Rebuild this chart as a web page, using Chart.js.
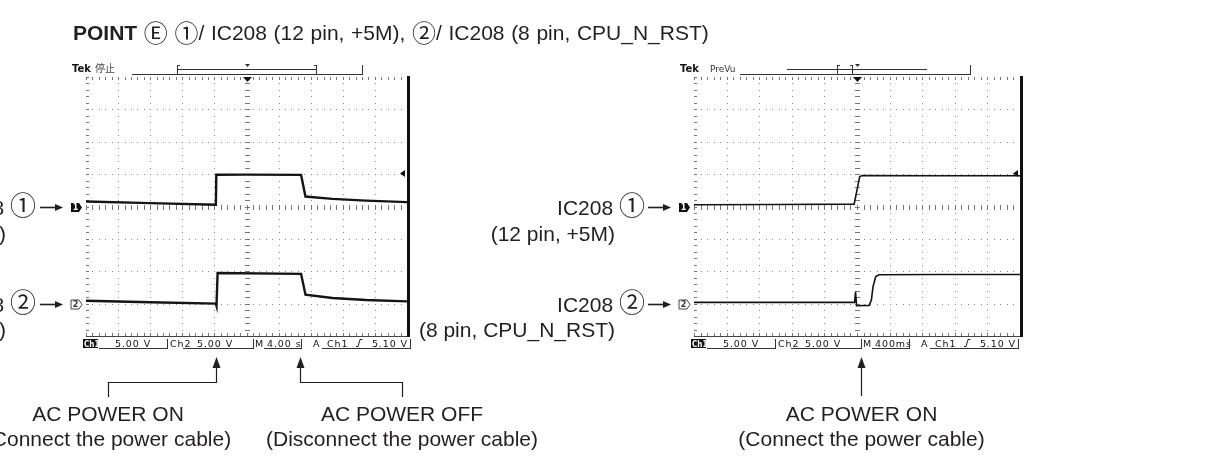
<!DOCTYPE html>
<html>
<head>
<meta charset="utf-8">
<script src="https://cdn.jsdelivr.net/npm/chart.js@4.4.1/dist/chart.umd.min.js"></script>
<style>
  html, body { margin: 0; padding: 0; background: #fff; }
  body { width: 1212px; height: 468px; position: relative; overflow: hidden;
         font-family: "Liberation Sans", Arial, sans-serif; color: #231f20; }
  canvas { position: absolute; top: 0; }
  .t { position: absolute; white-space: nowrap; line-height: 1; }
  .c { font-family: "Noto Sans CJK JP", "Liberation Sans", sans-serif; line-height: 0; }
  .ct { font-size: 24px; position: relative; top: 2px; }
  .cl { font-size: 26px; }
  .r { text-align: right; }
  .m { transform: translateX(-50%); text-align: center; }
</style>
</head>
<body>
<canvas id="scopeA" width="606" height="468" style="left:0"></canvas>
<canvas id="scopeB" width="606" height="468" style="left:606px"></canvas>

<div class="t" style="left:73px;top:22px;font-size:21px;word-spacing:0.8px"><b>POINT</b> <span class="c ct">Ⓔ</span> <span class="c ct">①</span>/ IC208 (12 pin, +5M), <span class="c ct">②</span>/ IC208 (8 pin, CPU_N_RST)</div>

<!-- probe labels, left capture -->
<div class="t r" style="right:1176px;top:197px;font-size:21px">IC208 <span class="c cl">①</span></div>
<div class="t r" style="right:1206px;top:223px;font-size:21px">(12 pin, +5M)</div>
<div class="t r" style="right:1176px;top:294px;font-size:21px">IC208 <span class="c cl">②</span></div>
<div class="t r" style="right:1206px;top:319px;font-size:21px">(8 pin, CPU_N_RST)</div>

<!-- probe labels, right capture -->
<div class="t r" style="right:567px;top:197px;font-size:21px">IC208 <span class="c cl">①</span></div>
<div class="t r" style="right:597px;top:223px;font-size:21px">(12 pin, +5M)</div>
<div class="t r" style="right:567px;top:294px;font-size:21px">IC208 <span class="c cl">②</span></div>
<div class="t r" style="right:597px;top:319px;font-size:21px">(8 pin, CPU_N_RST)</div>

<!-- event notes -->
<div class="t m" style="left:108px;top:403px;font-size:21px">AC POWER ON</div>
<div class="t m" style="left:108px;top:428px;font-size:21px">(Connect the power cable)</div>
<div class="t m" style="left:402px;top:403px;font-size:21px">AC POWER OFF</div>
<div class="t m" style="left:402px;top:428px;font-size:21px">(Disconnect the power cable)</div>
<div class="t m" style="left:861.5px;top:403px;font-size:21px">AC POWER ON</div>
<div class="t m" style="left:861.5px;top:428px;font-size:21px">(Connect the power cable)</div>

<script>
// ---- Capture A: 4.00 s/div, power applied and then removed ----
const capATime1 = [-20, -12, -3.82, -3.76, 0, 6.8, 7.35, 10.7, 14.9, 20];
const capAVolt1 = [0.78, 0.52, 0.26, 4.9, 4.92, 4.88, 1.54, 1.17, 0.9, 0.68];
const capATime2 = [-20, -12, -3.82, -3.74, -3.6, 6.8, 7.35, 10.7, 14.9, 20];
const capAVolt2 = [0.45, 0.22, 0.0, -0.35, 4.72, 4.6, 1.37, 0.86, 0.56, 0.34];

// ---- Capture B: 400 ms/div, power-on detail ----
const capBTime1 = [-2, -1, -0.035, 0.033, 0.06, 1, 2];
const capBVolt1 = [0.28, 0.3, 0.36, 4.6, 4.78, 4.74, 4.74];
const capBTime2 = [-2, -1, -0.03, -0.018, -0.005, 0.15, 0.177, 0.197, 0.23, 0.27, 1, 2];
const capBVolt2 = [0.2, 0.2, 0.2, 1.84, -0.32, -0.27, 0.6, 2.65, 4.2, 4.46, 4.5, 4.5];

// status readout
const voltsPerDiv = ['5.00 V', '5.00 V'];
const timePerDiv = ['4.00 s', '400ms'];
const triggerLevel = 5.10;
const triggerLabel = '5.10 V';

// ON / OFF event times used for the call-out arrows
const capAEvents = [-3.8, 6.65];
const capBEvents = [0.05];

const INK = '#231f20';

function tag(ctx, xr, y, filled, txt) {
  ctx.beginPath();
  ctx.moveTo(xr - 11, y - 4.5); ctx.lineTo(xr - 3, y - 4.5); ctx.lineTo(xr, y);
  ctx.lineTo(xr - 3, y + 4.5); ctx.lineTo(xr - 11, y + 4.5); ctx.closePath();
  if (filled) { ctx.fillStyle = '#111'; ctx.fill(); }
  else { ctx.fillStyle = '#fff'; ctx.fill(); ctx.strokeStyle = '#444'; ctx.lineWidth = 1; ctx.stroke(); }
  ctx.fillStyle = filled ? '#fff' : '#333';
  ctx.font = 'bold 8px "DejaVu Sans"';
  ctx.textAlign = 'center'; ctx.textBaseline = 'middle';
  ctx.fillText(txt, xr - 6.5, y + 0.5);
}

function probeArrow(ctx, x0, x1, y) {
  ctx.strokeStyle = INK; ctx.fillStyle = INK; ctx.lineWidth = 1.6;
  ctx.beginPath(); ctx.moveTo(x0, y); ctx.lineTo(x1 - 6, y); ctx.stroke();
  ctx.beginPath(); ctx.moveTo(x1 - 8, y - 3.5); ctx.lineTo(x1, y); ctx.lineTo(x1 - 8, y + 3.5); ctx.closePath(); ctx.fill();
}

const scopeDecor = {
  id: 'scopeDecor',
  beforeDatasetsDraw(chart, args, o) {
    const { ctx, chartArea: a, scales } = chart;
    const xs = scales.x, ys = scales.y1;
    const xStep = (xs.max - xs.min) / 10, yStep = (ys.max - ys.min) / 8;
    const px = v => Math.round(xs.getPixelForValue(v));
    const py = v => Math.round(ys.getPixelForValue(v));
    const L = Math.round(a.left), R = Math.round(a.right), T = Math.round(a.top), B = Math.round(a.bottom);
    ctx.save();
    ctx.fillStyle = '#8a8a8a';
    // dotted graticule, five dots per division
    for (let i = 0; i <= 10; i++)
      for (let k = 0; k <= 40; k++) ctx.fillRect(px(xs.min + i * xStep), py(ys.min + k * yStep / 5), 1, 1);
    for (let j = 0; j <= 8; j++)
      for (let k = 0; k <= 50; k++) ctx.fillRect(px(xs.min + k * xStep / 5), py(ys.min + j * yStep), 1, 1);
    // centre cross and edge tick marks
    const cx = px((xs.min + xs.max) / 2), cy = py((ys.min + ys.max) / 2);
    ctx.fillStyle = '#777';
    for (let k = 0; k <= 40; k++) {
      const y = py(ys.min + k * yStep / 5);
      ctx.fillRect(cx - 2, y, 5, 1); ctx.fillRect(L, y, 3, 1);
    }
    for (let k = 0; k <= 50; k++) {
      const x = px(xs.min + k * xStep / 5);
      ctx.fillRect(x, cy - 2, 1, 5); ctx.fillRect(x, T, 1, 3); ctx.fillRect(x, B - 3, 1, 3);
    }
    ctx.fillStyle = '#444';
    ctx.fillRect(L, B, R - L + 1, 1);
    ctx.fillStyle = '#111';
    ctx.fillRect(R, T - 1, 3, B - T + 2);
    ctx.restore();
  },
  afterDraw(chart, args, o) {
    const { ctx, chartArea: a, scales } = chart;
    const xs = scales.x;
    const L = Math.round(a.left), R = Math.round(a.right), T = Math.round(a.top), B = Math.round(a.bottom);
    const cx = Math.round(xs.getPixelForValue((xs.min + xs.max) / 2));
    ctx.save();

    // channel ground tags and probe arrows
    const g1 = Math.round(scales.y1.getPixelForValue(0)) + 0.5;
    const g2 = Math.round(scales.y2.getPixelForValue(0)) + 0.5;
    tag(ctx, L - 4, g1, true, '1');
    tag(ctx, L - 4, g2, false, '2');
    probeArrow(ctx, L - 46, L - 23, g1);
    probeArrow(ctx, L - 46, L - 23, g2);

    // trigger position and level markers
    ctx.fillStyle = '#111';
    ctx.beginPath(); ctx.moveTo(cx - 4, T); ctx.lineTo(cx + 5, T); ctx.lineTo(cx + 0.5, T + 5); ctx.closePath(); ctx.fill();
    const tl = scales.y1.getPixelForValue(triggerLevel);
    ctx.beginPath(); ctx.moveTo(R - 7, tl); ctx.lineTo(R - 2, tl - 3.5); ctx.lineTo(R - 2, tl + 3.5); ctx.closePath(); ctx.fill();

    // header: brand, acquisition state, record bar
    ctx.textAlign = 'left'; ctx.textBaseline = 'alphabetic';
    ctx.fillStyle = '#111';
    ctx.font = 'bold 10px "DejaVu Sans"';
    ctx.fillText('Tek', L - 14, T - 5);
    if (o.state === 'stop') {
      ctx.fillStyle = '#444'; ctx.font = '10px "Noto Sans CJK JP"';
      ctx.fillText('停止', L + 9, T - 5);
    } else {
      ctx.fillStyle = '#333'; ctx.font = '9px "DejaVu Sans"';
      ctx.fillText('PreVu', L + 16, T - 5);
    }
    ctx.fillStyle = '#333';
    ctx.fillRect(L + 46, T - 3, 231, 1);
    ctx.fillRect(L + 276, T - 12, 1, 10);
    const [b0, b1] = o.bracket;
    ctx.fillRect(L + o.upper[0], T - 8, o.upper[1] - o.upper[0], 1);
    for (const bx of [b0, b1]) ctx.fillRect(L + bx, T - 12, 1, 10);
    ctx.fillRect(L + b0, T - 12, 3, 1); ctx.fillRect(L + b0, T - 3, 3, 1);
    ctx.fillRect(L + b1 - 2, T - 12, 3, 1); ctx.fillRect(L + b1 - 2, T - 3, 3, 1);
    ctx.beginPath(); ctx.moveTo(cx - 2, T - 13); ctx.lineTo(cx + 3, T - 13); ctx.lineTo(cx + 0.5, T - 10); ctx.closePath(); ctx.fill();

    // status readout
    const base = B + 11;
    ctx.fillStyle = '#111';
    ctx.fillRect(L - 3, B + 3, 15, 9);
    ctx.fillStyle = '#fff';
    ctx.font = 'bold 8px "DejaVu Sans Condensed", "DejaVu Sans"';
    ctx.fillText('Ch1', L - 2, base - 0.5);
    ctx.fillStyle = '#111';
    ctx.font = '9.5px "DejaVu Sans"';
    ctx.letterSpacing = '0.9px';
    ctx.fillText(voltsPerDiv[0], L + 29, base);
    ctx.fillText('Ch2', L + 84, base);
    ctx.fillText(voltsPerDiv[1], L + 111, base);
    ctx.fillText('M', L + 169, base);
    ctx.fillText(o.timebase, L + 181, base);
    ctx.fillText('A', L + 227, base);
    ctx.fillText('Ch1', L + 241, base);
    ctx.textAlign = 'right';
    ctx.fillText(triggerLabel, L + 322, base);
    ctx.letterSpacing = '0px';
    ctx.fillStyle = '#333';
    for (const sx of [81, 167, 215, 324]) ctx.fillRect(L + sx, B + 3, 1, 10);
    for (const [u0, u1] of [[13, 81], [97, 167], [178, 215], [236, 324]]) ctx.fillRect(L + u0, base + 1, u1 - u0, 1);
    // rising-edge symbol
    ctx.strokeStyle = '#222'; ctx.lineWidth = 1;
    ctx.beginPath();
    ctx.moveTo(L + 270, base - 0.5); ctx.lineTo(L + 272, base - 0.5);
    ctx.lineTo(L + 274, base - 7.5); ctx.lineTo(L + 276.5, base - 7.5);
    ctx.stroke();

    // call-out arrows below the screen
    ctx.strokeStyle = INK; ctx.fillStyle = INK; ctx.lineWidth = 1.2;
    o.notes.forEach(n => {
      const x = Math.round(xs.getPixelForValue(n.t)) + 0.5;
      ctx.beginPath(); ctx.moveTo(x, 357); ctx.lineTo(x - 4, 368); ctx.lineTo(x + 4, 368); ctx.closePath(); ctx.fill();
      ctx.beginPath(); ctx.moveTo(x, 366);
      if (Math.abs(n.textX - x) > 3) {
        ctx.lineTo(x, 382.5); ctx.lineTo(n.textX + 0.5, 382.5); ctx.lineTo(n.textX + 0.5, 397);
      } else {
        ctx.lineTo(x, 396);
      }
      ctx.stroke();
    });
    ctx.restore();
  }
};

function points(ts, vs) { return ts.map((t, i) => ({ x: t, y: vs[i] })); }

function makeScope(id, c) {
  return new Chart(document.getElementById(id), {
    type: 'line',
    data: {
      datasets: [
        { label: 'Ch1', data: points(c.t1, c.v1), yAxisID: 'y1', borderColor: '#141414', borderWidth: c.lw, pointRadius: 0, tension: 0 },
        { label: 'Ch2', data: points(c.t2, c.v2), yAxisID: 'y2', borderColor: '#141414', borderWidth: c.lw, pointRadius: 0, tension: 0 }
      ]
    },
    options: {
      responsive: false, animation: false, devicePixelRatio: 1,
      layout: { padding: c.pad },
      plugins: { legend: { display: false }, tooltip: { enabled: false }, scopeDecor: c.decor },
      scales: {
        x: { type: 'linear', min: c.tMin, max: c.tMax, display: false },
        y1: { type: 'linear', min: -20, max: 20, display: false },
        y2: { type: 'linear', min: -5, max: 35, display: false }
      }
    },
    plugins: [scopeDecor]
  });
}

makeScope('scopeA', {
  t1: capATime1, v1: capAVolt1, t2: capATime2, v2: capAVolt2, lw: 2.4,
  tMin: -20, tMax: 20,
  pad: { left: 86, right: 199, top: 77, bottom: 132 },
  decor: { state: 'stop', timebase: timePerDiv[0], bracket: [91, 230], upper: [91, 230],
           notes: [{ t: capAEvents[0], textX: 108 }, { t: capAEvents[1], textX: 402 }] }
});

makeScope('scopeB', {
  t1: capBTime1, v1: capBVolt1, t2: capBTime2, v2: capBVolt2, lw: 1.6,
  tMin: -2, tMax: 2,
  pad: { left: 88, right: 192, top: 77, bottom: 132 },
  decor: { state: 'prevu', timebase: timePerDiv[1], bracket: [143, 158], upper: [93, 233],
           notes: [{ t: capBEvents[0], textX: 861.5 - 606 }] }
});
</script>
</body>
</html>
